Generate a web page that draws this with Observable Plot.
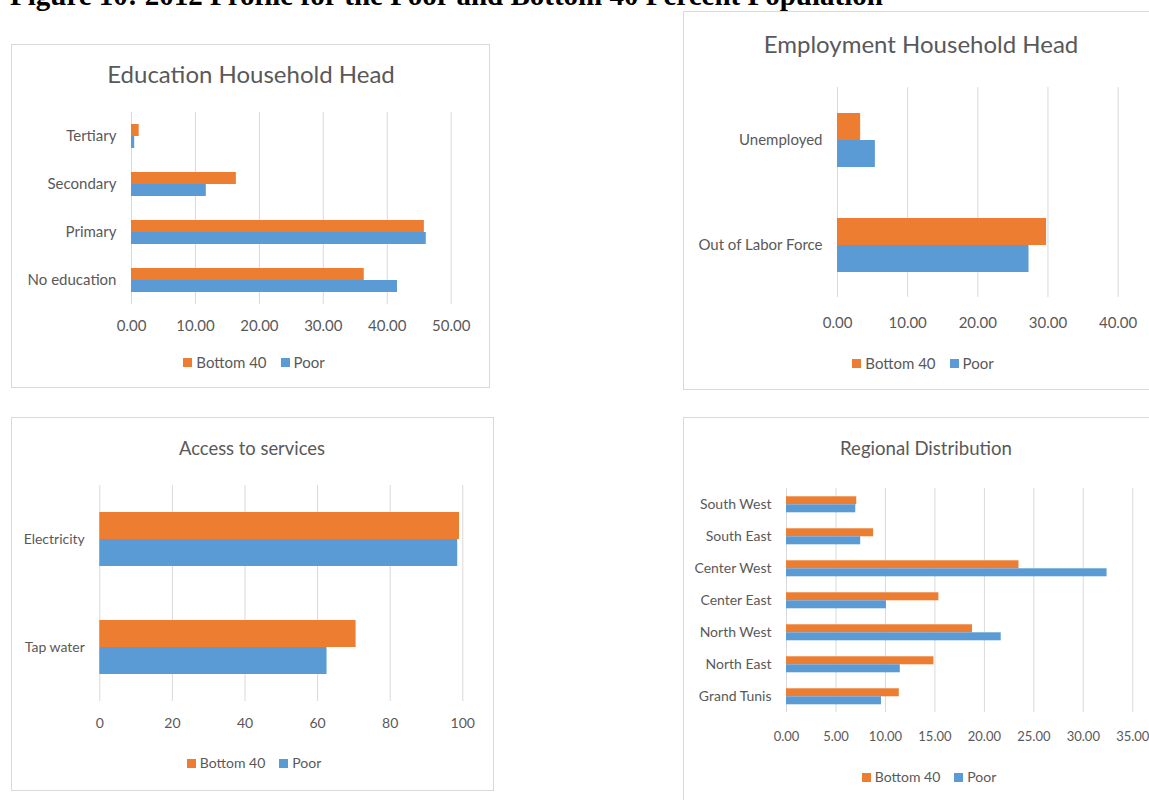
<!DOCTYPE html>
<html>
<head>
<meta charset="utf-8">
<script src="https://cdn.jsdelivr.net/npm/d3@7"></script>
<script src="https://cdn.jsdelivr.net/npm/@observablehq/plot@0.6"></script>
<style>
  html, body { margin: 0; padding: 0; background: #fff; }
  body { width: 1149px; height: 800px; overflow: hidden; position: relative; font-family: Lato, "Open Sans", sans-serif; }
  .frame { position: absolute; border: 1px solid #d9d9d9; box-sizing: border-box; background: #fff; }
  .ptitle { position: absolute; text-align: center; color: #595959; line-height: 1; white-space: nowrap; }
  .legend { position: absolute; display: flex; justify-content: center; align-items: center; color: #595959; font-size: 14px; height: 20px; line-height: 20px; white-space: nowrap; }
  .legend .sw { display: inline-block; width: 9px; height: 9px; margin-right: 4px; }
  .legend .item { display: inline-flex; align-items: center; margin: 0 7px; }
  #maintitle { position: absolute; left: 10px; top: -19px; font-family: "Liberation Serif", "Times New Roman", serif; font-weight: bold; font-size: 29px; line-height: 29px; color: #000; white-space: nowrap; }
</style>
</head>
<body>
<div id="maintitle">Figure 10: 2012 Profile for the Poor and Bottom 40 Percent Population</div>
<script>
// ---- Data ----
const seriesNames = ["Bottom 40", "Poor"];
const seriesColors = ["#ED7D31", "#5B9BD5"];

const eduCategories = ["Tertiary", "Secondary", "Primary", "No education"];
const eduBottom40 = [1.2, 16.4, 45.8, 36.4];
const eduPoor = [0.5, 11.7, 46.1, 41.6];
const eduTicks = [0, 10, 20, 30, 40, 50];

const empCategories = ["Unemployed", "Out of Labor Force"];
const empBottom40 = [3.3, 29.8];
const empPoor = [5.4, 27.3];
const empTicks = [0, 10, 20, 30, 40];

const svcCategories = ["Electricity", "Tap water"];
const svcBottom40 = [99.1, 70.6];
const svcPoor = [98.6, 62.6];
const svcTicks = [0, 20, 40, 60, 80, 100];

const regCategories = ["South West", "South East", "Center West", "Center East", "North West", "North East", "Grand Tunis"];
const regBottom40 = [7.1, 8.8, 23.5, 15.4, 18.8, 14.9, 11.4];
const regPoor = [7.0, 7.5, 32.4, 10.1, 21.7, 11.5, 9.6];
const regTicks = [0, 5, 10, 15, 20, 25, 30, 35];

// ---- Helpers ----
function addFrame(left, top, width, height) {
  const d = document.createElement("div");
  d.className = "frame";
  Object.assign(d.style, {left: left + "px", top: top + "px", width: width + "px", height: height + "px"});
  document.body.appendChild(d);
}
function addTitle(text, centerX, top, fontSize) {
  const d = document.createElement("div");
  d.className = "ptitle";
  d.textContent = text;
  Object.assign(d.style, {left: (centerX - 250) + "px", width: "500px", top: top + "px", fontSize: fontSize + "px"});
  document.body.appendChild(d);
}
function addLegend(centerX, centerY, fontSize) {
  const d = document.createElement("div");
  d.className = "legend";
  Object.assign(d.style, {left: (centerX - 150) + "px", width: "300px", top: (centerY - 10) + "px", fontSize: fontSize + "px"});
  seriesNames.forEach((s, i) => {
    const it = document.createElement("span");
    it.className = "item";
    const sw = document.createElement("span");
    sw.className = "sw";
    sw.style.background = seriesColors[i];
    it.appendChild(sw);
    it.appendChild(document.createTextNode(s));
    d.appendChild(it);
  });
  document.body.appendChild(d);
}
function addChart(o) {
  const rows = o.categories.flatMap((c, i) => [
    {category: c, series: seriesNames[0], value: o.b40[i]},
    {category: c, series: seriesNames[1], value: o.poor[i]}
  ]);
  const svg = Plot.plot({
    width: o.width,
    height: o.height,
    marginLeft: o.marginLeft,
    marginRight: o.marginRight,
    marginTop: o.marginTop,
    marginBottom: o.marginBottom,
    style: {fontFamily: "Lato, 'Open Sans', sans-serif", fontSize: o.catFont + "px", color: "#595959", background: "none", overflow: "visible"},
    facet: {data: rows, y: "category"},
    fy: {domain: o.categories, padding: 0, axis: "left", label: null, tickSize: 0, tickPadding: 15},
    y: {domain: seriesNames, axis: null, paddingInner: 0, paddingOuter: o.pad},
    x: {domain: [0, o.max], ticks: o.ticks, tickFormat: o.fmt, tickSize: 0, tickPadding: o.tickPadding, label: null, line: false},
    color: {domain: seriesNames, range: seriesColors},
    marks: [
      Plot.ruleX(o.ticks, {stroke: "#d9d9d9", strokeWidth: 1}),
      Plot.barX(rows, {x: "value", y: "series", fill: "series"})
    ]
  });
  svg.querySelectorAll('[aria-label^="x-axis"]').forEach(g => {
    g.setAttribute("font-size", o.tickFont);
    g.style.fontSize = o.tickFont + "px";
  });
  svg.style.position = "absolute";
  svg.style.left = o.left + "px";
  svg.style.top = o.top + "px";
  document.body.appendChild(svg);
}
const f2 = d => d.toFixed(2);
const f0 = d => String(d);

// ---- Panel 1: Education ----
addFrame(11, 44, 479, 344);
addTitle("Education Household Head", 251, 62, 24);
addChart({categories: eduCategories, b40: eduBottom40, poor: eduPoor, ticks: eduTicks, max: 50, fmt: f2,
  left: 12, top: 100, width: 476, height: 244, marginLeft: 119, marginRight: 37.3, marginTop: 12, marginBottom: 40,
  pad: 0.95, tickPadding: 16, catFont: 15, tickFont: 15});
addLegend(254, 362, 15);

// ---- Panel 2: Employment ----
addFrame(683, 11, 480, 379);
addTitle("Employment Household Head", 921, 32, 24);
addChart({categories: empCategories, b40: empBottom40, poor: empPoor, ticks: empTicks, max: 40, fmt: f2,
  left: 684, top: 70, width: 465, height: 267, marginLeft: 153, marginRight: 31.4, marginTop: 16, marginBottom: 40,
  pad: 0.894, tickPadding: 20, catFont: 15, tickFont: 15});
addLegend(923, 363, 15);

// ---- Panel 3: Access to services ----
addFrame(11, 417, 483, 374);
addTitle("Access to services", 252, 438.7, 18.4);
addChart({categories: svcCategories, b40: svcBottom40, poor: svcPoor, ticks: svcTicks, max: 100, fmt: f0,
  left: 12, top: 470, width: 480, height: 271, marginLeft: 87.3, marginRight: 29.7, marginTop: 15, marginBottom: 40,
  pad: 0.939, tickPadding: 17, catFont: 14, tickFont: 14});
addLegend(254, 763, 14);

// ---- Panel 4: Regional Distribution ----
addFrame(683, 417, 480, 400);
addTitle("Regional Distribution", 926, 439, 18.6);
addChart({categories: regCategories, b40: regBottom40, poor: regPoor, ticks: regTicks, max: 35, fmt: f2,
  left: 684, top: 475, width: 465, height: 277.7, marginLeft: 102, marginRight: 16.7, marginTop: 11.7, marginBottom: 40,
  pad: 0.86, tickPadding: 19, catFont: 14, tickFont: 13});
addLegend(929, 777, 14);
</script>
</body>
</html>
